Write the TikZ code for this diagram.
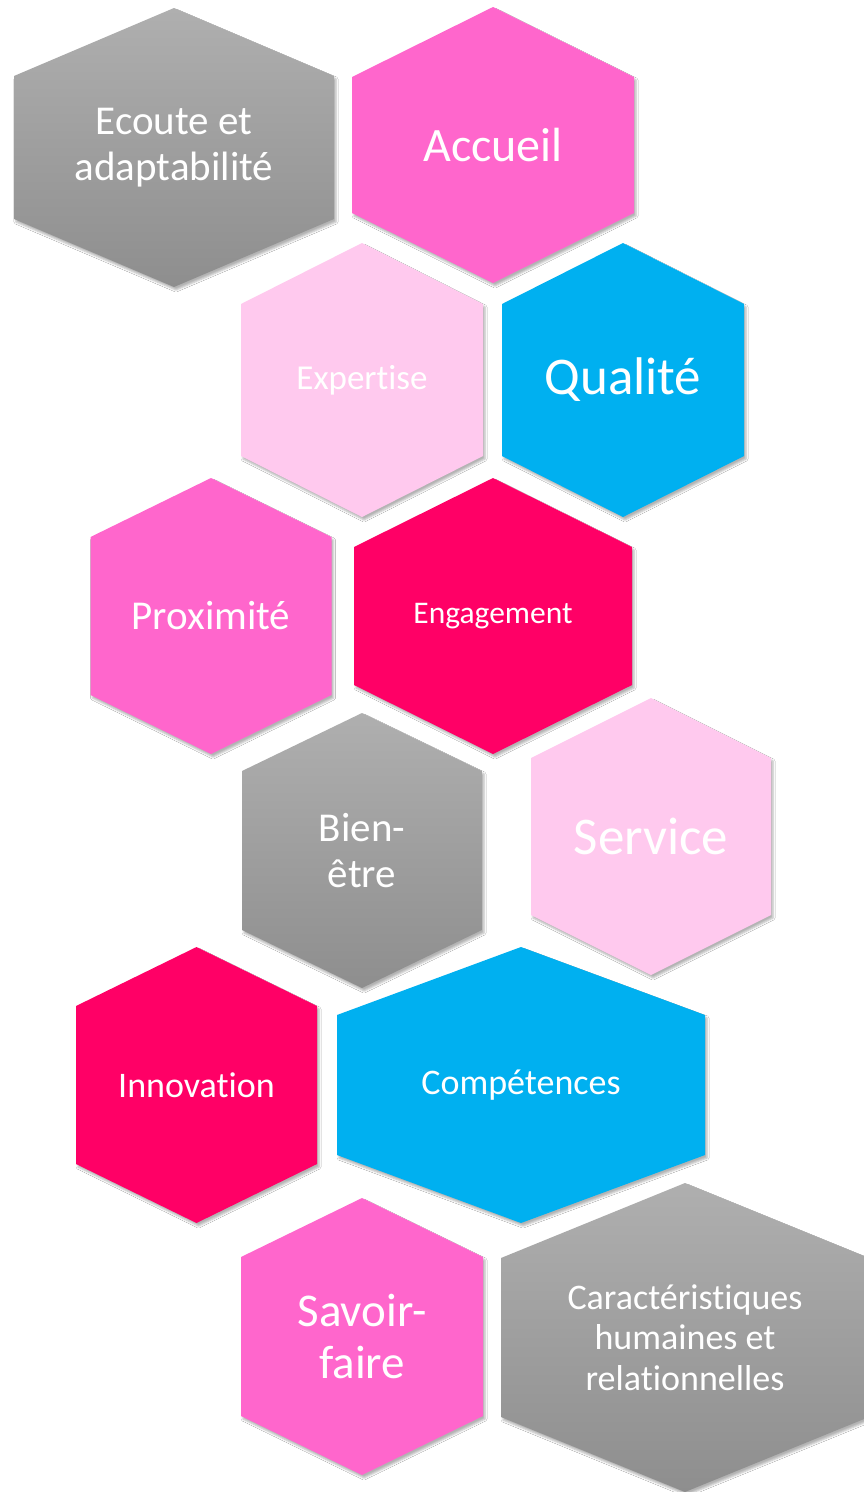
\documentclass[tikz,border=0pt]{standalone}
\usepackage{fontspec}
\setmainfont{Carlito}[Ligatures={NoCommon}]
\usetikzlibrary{shadows.blur}
\definecolor{hexpink}{HTML}{FF66CC}
\definecolor{hexlight}{HTML}{FFC9EE}
\definecolor{hexblue}{HTML}{00B0F0}
\definecolor{hexhot}{HTML}{FF0066}
\definecolor{hexgraytop}{HTML}{AFAFAF}
\definecolor{hexgraybot}{HTML}{8E8E8E}
\tikzset{
  hexbase/.style={blur shadow={shadow xshift=2pt,shadow yshift=-3pt,shadow blur radius=2pt,shadow opacity=30}},
  hexgray/.style={hexbase,top color=hexgraytop,bottom color=hexgraybot},
  hexpinkfill/.style={hexbase,fill=hexpink},
  hexlightfill/.style={hexbase,fill=hexlight},
  hexbluefill/.style={hexbase,fill=hexblue},
  hexhotfill/.style={hexbase,fill=hexhot},
  hextext/.style={text=white,align=center,inner sep=0pt}
}
% #1 name, #2 cx, #3 cy, #4 half width, #5 half height, #6 slant height, #7 fill style, #8 font size, #9 text
\newcommand\hexa[9]{%
  \path[#7] (#2,#3-#5) -- (#2+#4,#3-#5+#6) -- (#2+#4,#3+#5-#6) -- (#2,#3+#5)
     -- (#2-#4,#3+#5-#6) -- (#2-#4,#3-#5+#6) -- cycle;
  \pgfmathsetlengthmacro\hexlead{#8*1.12}%
  \node[hextext,font=\fontsize{#8}{\hexlead}\selectfont] (#1) at (#2,#3) {#9};
}
\begin{document}
\begin{tikzpicture}[x=1pt,y=-1pt]
\useasboundingbox (0,0) rectangle (864,1492);
\fill[white] (0,0) rectangle (864,1492);
\clip (0,0) rectangle (864,1492);
\hexa{ecoute}{174}{147.5}{160}{139.5}{68}{hexgray}{41}{Ecoute et\\adaptabilité}
\hexa{accueil}{493}{145}{141}{138}{70}{hexpinkfill}{48}{Accueil}
\hexa{expertise}{362}{380}{121}{137}{61}{hexlightfill}{35}{Expertise}
\hexa{qualite}{623}{380}{121}{137}{61}{hexbluefill}{53}{Qualité}
\hexa{proximite}{211}{616}{120.5}{138}{59}{hexpinkfill}{41}{Proximité}
\hexa{engagement}{493}{616}{139}{138}{69}{hexhotfill}{31.5}{Engagement}
\hexa{bienetre}{362}{850.5}{120}{137.5}{58}{hexgray}{41}{Bien-\\être}
\hexa{service}{651}{836.5}{120}{138.5}{60}{hexlightfill}{53}{Service}
\hexa{innovation}{196.5}{1085}{120.5}{138}{59}{hexhotfill}{36}{Innovation}
\hexa{competences}{521}{1085}{184}{138}{68}{hexbluefill}{36}{Compétences}
\hexa{savoir}{362}{1336.5}{121}{138.5}{59}{hexpinkfill}{47}{Savoir-\\faire}
\hexa{caract}{685}{1337.5}{184}{154.5}{75}{hexgray}{36}{Caractéristiques\\humaines et\\relationnelles}
\end{tikzpicture}
\end{document}
